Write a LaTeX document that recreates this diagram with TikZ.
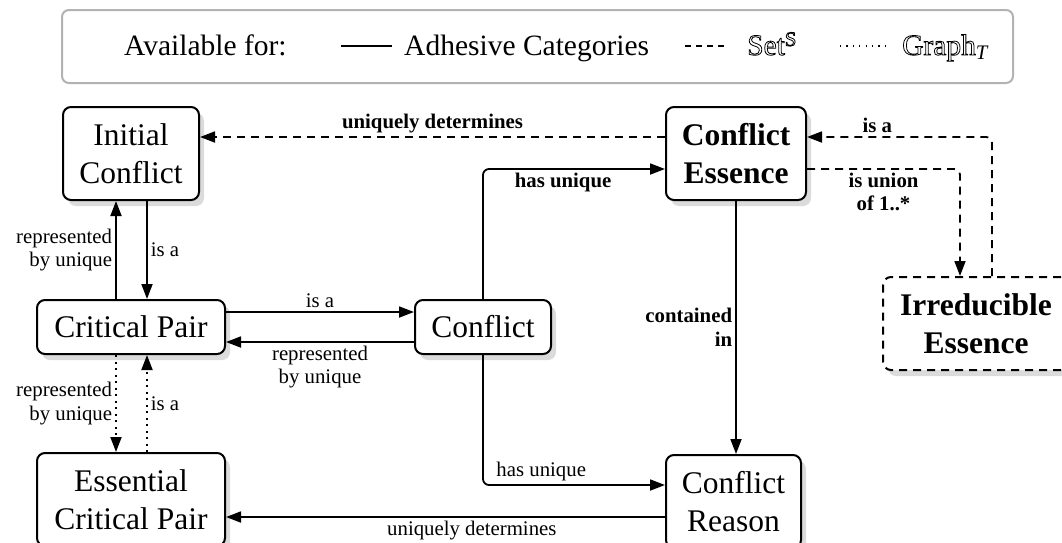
\documentclass[tikz,border=0pt]{standalone}
\usepackage{fontspec}
\setmainfont{Liberation Serif}
\usetikzlibrary{arrows.meta,shadows}

% open-face (double-struck look) letters: glyph outlines are stroked, not filled
\newcommand\dsw[1]{\special{pdf:literal direct 1 Tr 0.8 w}#1\special{pdf:literal direct 0 Tr 1 w}}

\tikzset{
  box/.style={draw, line width=2pt, rounded corners=8pt, fill=white, align=center,
    drop shadow={shadow xshift=5pt, shadow yshift=-6pt, fill=black!14, opacity=1},
    font=\fontsize{31.5}{38}\selectfont},
  boldbox/.style={box, font=\fontsize{31.5}{38}\selectfont\bfseries},
  conn/.style={line width=1.8pt, rounded corners=6pt, -{Triangle[length=15pt,width=11pt]}},
  dsh/.style={dash pattern=on 8pt off 6pt},
  dots/.style={dash pattern=on 2pt off 4.5pt},
  lbl/.style={font=\fontsize{20.8}{23.5}\selectfont, align=center, inner sep=3pt},
  blbl/.style={lbl, font=\fontsize{20.8}{23.5}\selectfont\bfseries},
  legtext/.style={font=\fontsize{29.5}{35}\selectfont, anchor=base west, inner sep=0pt},
  legframe/.style={draw=black!30, line width=2pt, rounded corners=7pt},
}

\begin{document}
\begin{tikzpicture}[x=1pt,y=-1pt]
\useasboundingbox (0,0) rectangle (1062,542);
\clip (0,0) rectangle (1062,542);

% legend
\draw[legframe] (62,10) rectangle (1013,83);
\node[legtext] (lav) at (124,55) {Available for:};
\coordinate (ls1) at (341,46);
\coordinate (ls2) at (392,46);
\draw[line width=2pt] (ls1) -- (ls2);
\node[legtext] (ladh) at (404,55) {Adhesive Categories};
\coordinate (ld1) at (685,46);
\coordinate (ld2) at (725,46);
\draw[line width=1.6pt, dash pattern=on 6pt off 5pt] (ld1) -- (ld2);
\node[legtext] (lset) at (747,55) {\dsw{Set}\textsuperscript{\dsw{S}}};
\coordinate (lp1) at (840,46);
\coordinate (lp2) at (890,46);
\draw[line width=1.4pt, dash pattern=on 1.2pt off 5.2pt] (lp1) -- (lp2);
\node[legtext] (lgr) at (902,55) {\dsw{Graph}\textsubscript{\itshape T}};

% concepts
\node[box, minimum width=136pt, minimum height=93pt] (ic) at (131,153.5) {Initial\\Conflict};
\node[boldbox, minimum width=140pt, minimum height=93pt] (ce) at (736,153.5) {Conflict\\Essence};
\node[box, minimum width=188pt, minimum height=54pt] (cp) at (131,327) {Critical Pair};
\node[box, minimum width=136pt, minimum height=54pt] (cf) at (483,327) {Conflict};
\node[box, minimum width=188pt, minimum height=93pt] (ecp) at (131,499.5) {Essential\\Critical Pair};
\node[box, minimum width=135pt, minimum height=93pt] (cr) at (733.5,501.5) {Conflict\\Reason};
\node[boldbox, dsh, minimum width=186pt, minimum height=93pt] (ie) at (976,323.5) {Irreducible\\Essence};

% relations
\draw[conn, dsh] ([yshift=16.5pt]ce.west) -- node[blbl, above] {uniquely determines} ([yshift=16.5pt]ic.east);
\draw[conn] (cf.north) |- node[blbl, below, pos=0.72] {has unique} ([yshift=-15.5pt]ce.west);
\draw[conn] (ce.south) -- node[blbl, left, align=right] {contained\\in} (ce.south |- cr.north);
\draw[conn, dsh] ([xshift=16pt]ie.north) |- node[blbl, above, pos=0.81] {is a} ([yshift=16.5pt]ce.east);
\draw[conn, dsh] ([yshift=-15.5pt]ce.east) -| node[blbl, below, pos=0.25] {is union\\of 1..*} ([xshift=-16pt]ie.north);

\draw[conn] ([xshift=16pt]ic.south) -- node[lbl, right] {is a} ([xshift=16pt]cp.north);
\draw[conn] ([xshift=-15pt]cp.north) -- node[lbl, left, align=right] {represented\\by unique} ([xshift=-15pt]ic.south);
\draw[conn] ([yshift=15pt]cp.east) -- node[lbl, above] {is a} ([yshift=15pt]cf.west);
\draw[conn] ([yshift=-15pt]cf.west) -- node[lbl, below] {represented\\by unique} ([yshift=-15pt]cp.east);
\draw[conn, dots] ([xshift=-15pt]cp.south) -- node[lbl, left, align=right] {represented\\by unique} ([xshift=-15pt]ecp.north);
\draw[conn, dots] ([xshift=16pt]ecp.north) -- node[lbl, right] {is a} ([xshift=16pt]cp.south);
\draw[conn] (cf.south) |- node[lbl, above, pos=0.66] {has unique} ([yshift=16.5pt]cr.west);
\coordinate (crl) at ([yshift=-15.5pt]cr.west);
\draw[conn] (crl) -- node[lbl, below, pos=0.44] {uniquely determines} (crl -| ecp.east);
\end{tikzpicture}
\end{document}
